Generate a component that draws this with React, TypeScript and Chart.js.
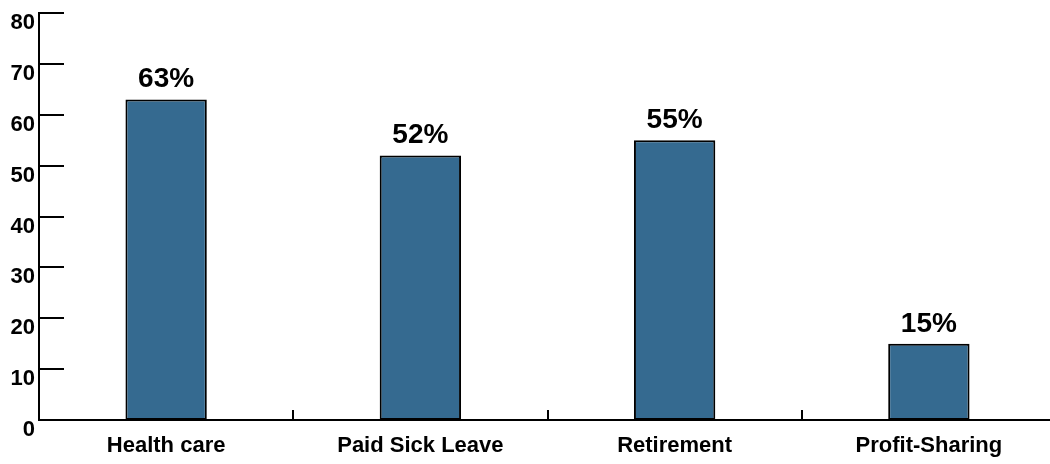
import React, { useEffect, useRef } from "react";
import { Chart, registerables } from "chart.js";

Chart.register(...registerables);

const categories = ["Health care", "Paid Sick Leave", "Retirement", "Profit-Sharing"];
const values = [63, 52, 55, 15];
const valueLabels = ["63%", "52%", "55%", "15%"];
const yTicks = [0, 10, 20, 30, 40, 50, 60, 70, 80];

const FONT = "'Liberation Sans', Arial, Helvetica, sans-serif";

const innerTicks = {
  id: "innerTicks",
  afterDraw(chart: any) {
    const ctx = chart.ctx;
    const y = chart.scales.y;
    const x = chart.scales.x;
    const area = chart.chartArea;
    ctx.save();
    ctx.strokeStyle = "#000";
    ctx.lineWidth = 2;
    ctx.beginPath();
    for (const t of y.ticks) {
      if (t.value === 0) continue;
      const py = Math.round(y.getPixelForValue(t.value));
      ctx.moveTo(area.left, py);
      ctx.lineTo(area.left + 25, py);
    }
    for (let i = 1; i < categories.length; i++) {
      const px = (x.getPixelForValue(i - 1) + x.getPixelForValue(i)) / 2;
      ctx.moveTo(Math.round(px), area.bottom);
      ctx.lineTo(Math.round(px), area.bottom - 10);
    }
    ctx.stroke();
    ctx.restore();
  },
};

const barLabels = {
  id: "barLabels",
  afterDatasetsDraw(chart: any) {
    const ctx = chart.ctx;
    const meta = chart.getDatasetMeta(0);
    ctx.save();
    ctx.fillStyle = "#000";
    ctx.font = `bold 28px ${FONT}`;
    ctx.textAlign = "center";
    ctx.textBaseline = "alphabetic";
    meta.data.forEach((bar: any, i: number) => {
      ctx.fillText(valueLabels[i], bar.x, bar.y - 12);
    });
    ctx.restore();
  },
};

export default function App() {
  const ref = useRef<HTMLCanvasElement | null>(null);
  useEffect(() => {
    document.body.style.margin = "0";
    document.documentElement.style.overflow = "hidden";
    document.body.style.overflow = "hidden";
    const chart = new Chart(ref.current!, {
      type: "bar",
      data: {
        labels: categories,
        datasets: [
          {
            data: values,
            backgroundColor: "#356a90",
            borderColor: "#000",
            borderWidth: 2,
            borderSkipped: false,
            categoryPercentage: 1,
            barPercentage: 0.32,
          },
        ],
      },
      options: {
        animation: false,
        responsive: false,
        maintainAspectRatio: false,
        devicePixelRatio: 1,
        layout: { padding: { top: 13, right: 0, left: 0, bottom: 0 } },
        plugins: { legend: { display: false }, tooltip: { enabled: false } },
        scales: {
          x: {
            grid: { display: false, drawTicks: false },
            border: { display: true, color: "#000", width: 2 },
            ticks: {
              color: "#000",
              font: { family: FONT, size: 22, weight: "bold" },
              padding: 13,
              maxRotation: 0,
              autoSkip: false,
            },
            afterFit(scale: any) {
              scale.height = 44;
              scale.paddingLeft = 0;
              scale.paddingRight = 0;
            },
          },
          y: {
            min: 0,
            max: 80,
            afterBuildTicks(scale: any) {
              scale.ticks = yTicks.map((v) => ({ value: v }));
            },
            grid: { display: false, drawTicks: false },
            border: { display: true, color: "#000", width: 2 },
            ticks: {
              color: "#000",
              font: { family: FONT, size: 22, weight: "bold" },
              padding: 4,
              labelOffset: 10,
            },
            afterFit(scale: any) {
              scale.width = 39;
              scale.paddingTop = 0;
              scale.paddingBottom = 0;
            },
          },
        },
      },
      plugins: [innerTicks, barLabels],
    });
    return () => chart.destroy();
  }, []);
  return (
    <div style={{ width: 1056, height: 464 }}>
      <canvas ref={ref} width={1056} height={464} style={{ display: "block" }} />
    </div>
  );
}
